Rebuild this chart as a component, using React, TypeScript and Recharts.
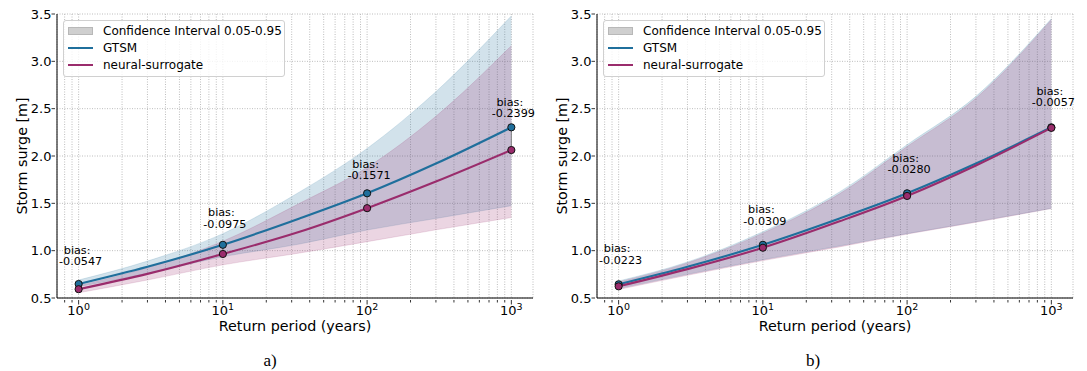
import React from 'react';
import { ComposedChart, Area, Line, XAxis, YAxis, CartesianGrid, ReferenceLine, ReferenceDot } from 'recharts';

// return periods (years); markers sit on the decades
const periods = [1, 3, 10, 34, 100, 300, 1000];
const markedPeriods = [1, 10, 100, 1000];
const xTicks = [0.8, 0.9, 1, 2, 3, 4, 5, 6, 7, 8, 9, 10, 20, 30, 40, 50, 60, 70, 80, 90, 100, 200, 300, 400, 500, 600, 700, 800, 900, 1000];
const yTicks = [0.5, 1, 1.5, 2, 2.5, 3, 3.5];

// panel a)
const gtsmA = [0.648, 0.83, 1.062, 1.34, 1.606, 1.92, 2.303];
const neuralA = [0.593, 0.755, 0.965, 1.2, 1.449, 1.73, 2.063];
const gtsmLoA = [0.62, 0.76, 0.936, 1.07, 1.218, 1.34, 1.475];
const gtsmHiA = [0.69, 0.89, 1.18, 1.62, 2.08, 2.68, 3.48];
const neuralLoA = [0.555, 0.69, 0.85, 0.975, 1.095, 1.22, 1.35];
const neuralHiA = [0.63, 0.82, 1.1, 1.5, 1.88, 2.42, 3.165];
const biasA = ['-0.0547', '-0.0975', '-0.1571', '-0.2399'];

// panel b)
const gtsmB = [0.645, 0.83, 1.062, 1.34, 1.606, 1.92, 2.303];
const neuralB = [0.623, 0.805, 1.031, 1.31, 1.578, 1.9, 2.297];
const gtsmLoB = [0.6, 0.75, 0.905, 1.05, 1.18, 1.305, 1.447];
const gtsmHiB = [0.68, 0.88, 1.2, 1.62, 2.12, 2.63, 3.45];
const neuralLoB = [0.59, 0.74, 0.895, 1.04, 1.175, 1.3, 1.445];
const neuralHiB = [0.67, 0.87, 1.185, 1.6, 2.1, 2.61, 3.44];
const biasB = ['-0.0223', '-0.0309', '-0.0280', '-0.0057'];

const BLUE = '#1f6f9c';
const PURPLE = '#9a2c6c';
const FONT = '"DejaVu Sans", sans-serif';
const xDomain = [0.708, 1413];

const XTick = ({ x, y, payload }: any) => {
    const v = payload.value;
    const exp = Math.log10(v);
    const major = Math.abs(exp - Math.round(exp)) < 1e-9;
    if (!major) return <line x1={x} x2={x} y1={y} y2={y + 2.5} stroke="#000" strokeWidth={0.8} />;
    return (
        <g>
            <line x1={x} x2={x} y1={y} y2={y + 4.5} stroke="#000" strokeWidth={0.8} />
            <text x={x} y={y + 15} textAnchor="middle" fontSize={13} fontFamily={FONT} fill="#000">
                <tspan>10</tspan>
                <tspan dy={-5.5} fontSize={9.5}>{Math.round(exp)}</tspan>
            </text>
        </g>
    );
};

const YTick = ({ x, y, payload }: any) => (
    <g>
        <line x1={x - 3.5} x2={x} y1={y} y2={y} stroke="#000" strokeWidth={0.8} />
        <text x={x - 3.5} y={y + 4.5} textAnchor="end" fontSize={13} fontFamily={FONT} fill="#000">{payload.value.toFixed(1)}</text>
    </g>
);

const makeDot = (color: string) => (props: any) => {
    const { cx, cy, payload, index } = props;
    if (!payload.mark) return <g key={index} />;
    return <circle key={index} cx={cx} cy={cy} r={3.6} fill={color} stroke="#111" strokeWidth={1} />;
};

function Panel({ g, n, gLo, gHi, nLo, nHi, bias }: any) {
    const rows = periods.map((t, i) => ({
        t,
        gtsm: g[i],
        neural: n[i],
        gBand: [gLo[i], gHi[i]],
        nBand: [nLo[i], nHi[i]],
        mark: markedPeriods.includes(t),
    }));

    return (
        <ComposedChart width={540} height={371} data={rows} margin={{ top: 14, right: 7, left: 17, bottom: 33 }}>
            <CartesianGrid strokeDasharray="1 1.5" stroke="#bdbdbd" strokeWidth={1} />
            <XAxis
                dataKey="t" type="number" scale="log" domain={xDomain} allowDataOverflow
                ticks={xTicks} interval={0} tick={<XTick />} tickLine={false} tickSize={0} height={40}
                axisLine={{ stroke: '#000', strokeWidth: 1 }}
                label={{
                    content: ({ viewBox }: any) => (
                        <text x={viewBox.x + viewBox.width / 2} y={viewBox.y + 33} textAnchor="middle" fontSize={14.3} fontFamily={FONT} fill="#000">Return period (years)</text>
                    ),
                }}
            />
            <XAxis xAxisId="top" orientation="top" type="number" scale="log" domain={xDomain} allowDataOverflow tick={false} tickLine={false} height={0} axisLine={{ stroke: '#000' }} />
            <YAxis
                type="number" domain={[0.5, 3.5]} ticks={yTicks} allowDataOverflow interval={0}
                tick={<YTick />} tickLine={false} tickSize={0} width={40}
                axisLine={{ stroke: '#000', strokeWidth: 1 }}
                label={{
                    content: () => (
                        <text x={27} y={156} transform="rotate(-90 27 156)" textAnchor="middle" fontSize={14.3} fontFamily={FONT} fill="#000">Storm surge [m]</text>
                    ),
                }}
            />
            <YAxis yAxisId="right" orientation="right" type="number" domain={[0.5, 3.5]} tick={false} tickLine={false} width={0} axisLine={{ stroke: '#000' }} />

            <Area dataKey="gBand" type="monotone" fill={BLUE} fillOpacity={0.2} stroke={BLUE} strokeOpacity={0.15} isAnimationActive={false} />
            <Area dataKey="nBand" type="monotone" fill={PURPLE} fillOpacity={0.2} stroke={PURPLE} strokeOpacity={0.15} isAnimationActive={false} />

            {markedPeriods.map((t) => {
                const k = periods.indexOf(t);
                return <ReferenceLine key={'seg' + t} segment={[{ x: t, y: g[k] }, { x: t, y: n[k] }]} stroke="#808080" strokeWidth={1} />;
            })}

            <Line dataKey="gtsm" type="monotone" stroke={BLUE} strokeWidth={2.1} dot={makeDot(BLUE)} activeDot={false} isAnimationActive={false} />
            <Line dataKey="neural" type="monotone" stroke={PURPLE} strokeWidth={2.1} dot={makeDot(PURPLE)} activeDot={false} isAnimationActive={false} />

            {markedPeriods.map((t, i) => {
                const k = periods.indexOf(t);
                const mid = (g[k] + n[k]) / 2;
                return (
                    <ReferenceDot
                        key={'b' + t} x={t} y={mid} r={0} fill="none" stroke="none"
                        label={{
                            content: ({ viewBox }: any) => {
                                const cx = viewBox.x + (viewBox.width || 0) / 2;
                                const cy = viewBox.y + (viewBox.height || 0) / 2;
                                return (
                                    <g fontSize={11.2} fontFamily={FONT} fill="#000">
                                        <text x={cx - 1.5} y={cy - 33} textAnchor="middle">bias:</text>
                                        <text x={cx + 2} y={cy - 21.5} textAnchor="middle">{bias[i]}</text>
                                    </g>
                                );
                            },
                        }}
                    />
                );
            })}
        </ComposedChart>
    );
}

function LegendBox() {
    const row = { position: 'absolute' as const, left: 4, display: 'flex', alignItems: 'center', height: 16 };
    return (
        <div style={{ position: 'absolute', left: 63, top: 20, width: 220, height: 55, border: '1px solid #d0d0d0', borderRadius: 3, background: 'rgba(255,255,255,0.8)', fontFamily: FONT, fontSize: 12, color: '#000' }}>
            <div style={{ ...row, top: 2 }}>
                <div style={{ width: 25, height: 8, background: '#cfcfcf', border: '1px solid #b8b8b8', boxSizing: 'border-box' }} />
                <span style={{ marginLeft: 10 }}>Confidence Interval 0.05-0.95</span>
            </div>
            <div style={{ ...row, top: 19 }}>
                <div style={{ width: 25, height: 2, background: BLUE }} />
                <span style={{ marginLeft: 10 }}>GTSM</span>
            </div>
            <div style={{ ...row, top: 36 }}>
                <div style={{ width: 25, height: 2, background: PURPLE }} />
                <span style={{ marginLeft: 10 }}>neural-surrogate</span>
            </div>
        </div>
    );
}

export default function App() {
    return (
        <div style={{ position: 'absolute', left: 0, top: 0, width: 1087, height: 371, background: '#fff', overflow: 'hidden' }}>
            <div style={{ position: 'absolute', left: 0, top: 0 }}>
                <Panel g={gtsmA} n={neuralA} gLo={gtsmLoA} gHi={gtsmHiA} nLo={neuralLoA} nHi={neuralHiA} bias={biasA} />
                <LegendBox />
            </div>
            <div style={{ position: 'absolute', left: 540, top: 0 }}>
                <Panel g={gtsmB} n={neuralB} gLo={gtsmLoB} gHi={gtsmHiB} nLo={neuralLoB} nHi={neuralHiB} bias={biasB} />
                <LegendBox />
            </div>
            <svg width={1087} height={371} style={{ position: 'absolute', left: 0, top: 0, pointerEvents: 'none' }}>
                <text x={270} y={366} textAnchor="middle" fontSize={17} fontFamily='"Liberation Serif", serif' fill="#000">a)</text>
                <text x={813} y={366} textAnchor="middle" fontSize={17} fontFamily='"Liberation Serif", serif' fill="#000">b)</text>
            </svg>
        </div>
    );
}
